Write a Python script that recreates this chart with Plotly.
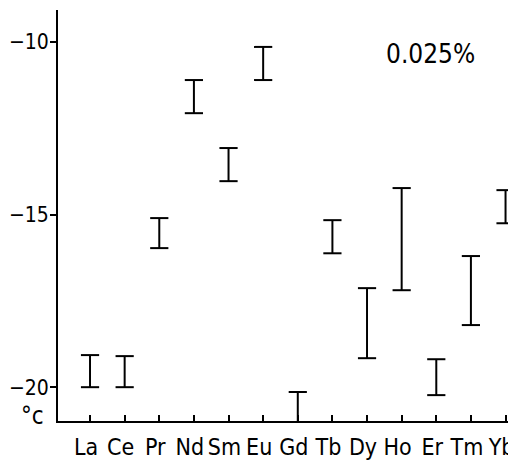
import plotly.graph_objects as go

elements = ["La", "Ce", "Pr", "Nd", "Sm", "Eu", "Gd", "Tb", "Dy", "Ho", "Er", "Tm", "Yb"]
upper = [-19.07, -19.10, -15.10, -11.10, -13.07, -10.14, -20.14, -15.16, -17.13, -14.23, -19.19, -16.20, -14.29]
lower = [-20.00, -20.00, -15.97, -12.06, -14.03, -11.10, -21.40, -16.12, -19.16, -17.19, -20.23, -18.20, -15.25]
y_ticks = [-10, -15, -20]
annotation_text = "0.025%"
unit_text = "°c"

FONT = "DejaVu Sans Condensed, Liberation Sans Narrow, sans-serif"

xs = list(range(len(elements)))
lx, ly = [], []
for i in xs:
    lx += [i, i, None]
    ly += [lower[i], upper[i], None]

fig = go.Figure()
fig.add_trace(go.Scatter(x=lx, y=ly, mode="lines",
                         line=dict(color="black", width=2), hoverinfo="skip"))
fig.add_trace(go.Scatter(x=xs + xs, y=upper + lower, mode="markers",
                         marker=dict(symbol="line-ew", size=13,
                                     line=dict(color="black", width=2)),
                         cliponaxis=True, hoverinfo="skip"))

# page body has an 8px margin, so the figure is shifted by (8, 8)
fig.update_layout(
    width=508, height=462,
    margin=dict(l=50, r=7, t=2, b=49),
    paper_bgcolor="white", plot_bgcolor="white",
    showlegend=False,
    font=dict(family=FONT, color="black"),
    xaxis=dict(range=[-0.925, 12.1], tickvals=xs, ticktext=elements,
               tickangle=0, automargin=False, ticklabeloverflow="allow",
               ticklabelstandoff=4, ticklabelshift=-4,
               showgrid=False, zeroline=False, showline=True,
               linecolor="black", linewidth=2,
               ticks="inside", ticklen=6, tickwidth=1.5, tickcolor="black",
               tickfont=dict(size=23, family=FONT)),
    yaxis=dict(range=[-20.98, -9.07], tickvals=y_ticks,
               ticktext=["−10", "−15", "−20"], automargin=False,
               ticklabeloverflow="allow", ticklabelstandoff=-3,
               showgrid=False, zeroline=False, showline=True,
               linecolor="black", linewidth=2,
               ticks="outside", ticklen=6, tickwidth=1.5, tickcolor="black",
               tickfont=dict(size=21, family=FONT)),
    annotations=[
        dict(text=annotation_text, xref="paper", yref="paper", x=0.826, y=0.893,
             xanchor="center", yanchor="middle",
             showarrow=False, font=dict(size=26, family=FONT)),
        dict(text=unit_text, xref="paper", yref="paper", x=-0.056, y=0.012,
             xanchor="center", yanchor="middle",
             showarrow=False, font=dict(size=24, family=FONT)),
    ],
)

fig.write_html("out.html")
